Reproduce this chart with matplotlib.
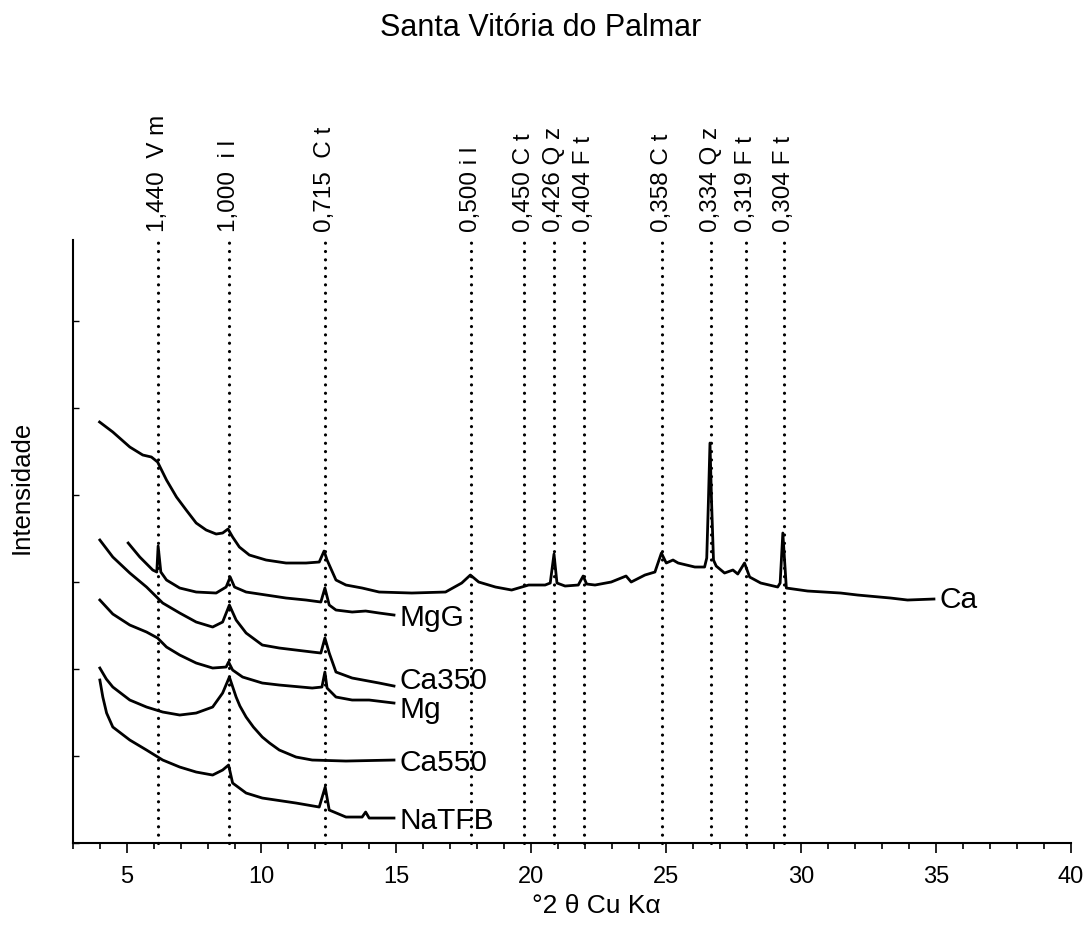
import matplotlib
matplotlib.use("Agg")
import matplotlib.pyplot as plt
from matplotlib.ticker import MultipleLocator

plt.rcParams['font.family'] = ['Liberation Sans', 'DejaVu Sans']

# ---------------- data (2theta in degrees, intensity in arbitrary units) -------------
ca_x = [4.0, 4.49, 5.12, 5.60, 5.92, 6.15, 6.48, 6.85, 7.21, 7.58, 7.95, 8.32, 8.56,
        8.76, 8.93, 9.18, 9.55, 10.17, 10.91, 11.65, 12.14, 12.32, 12.43, 12.76, 13.13,
        13.73, 14.36, 15.57, 16.82, 17.42, 17.74, 18.05, 18.67, 19.27, 19.90, 20.51,
        20.70, 20.84, 20.95, 21.25, 21.74, 21.92, 22.05, 22.36, 22.96, 23.51, 23.70,
        24.21, 24.58, 24.82, 25.00, 25.25, 25.44, 26.06, 26.42, 26.50, 26.56, 26.62,
        26.68, 26.75, 26.85, 27.16, 27.47, 27.65, 27.90, 28.09, 28.50, 29.13, 29.22,
        29.32, 29.45, 30.24, 31.46, 32.09, 33.31, 33.94, 34.92]
ca_y = [421, 411, 396, 388, 386, 381, 363, 346, 333, 320, 313, 309, 310,
        314, 306, 296, 288, 283, 280, 280, 281, 292, 283, 263, 258,
        255, 251, 250, 251, 260, 268, 261, 256, 253, 258, 258,
        260, 289, 260, 257, 258, 267, 259, 258, 261, 267, 261,
        268, 271, 290, 280, 283, 280, 276, 276, 285, 340, 400,
        340, 283, 277, 270, 273, 269, 280, 266, 260, 256, 260,
        310, 255, 252, 250, 248, 245, 243, 244]

mgg_x = [5.06, 5.49, 5.97, 6.12, 6.17, 6.27, 6.48, 6.97, 7.58, 8.32, 8.69, 8.84,
         9.00, 9.43, 10.17, 10.91, 11.65, 12.20, 12.35, 12.51, 12.76, 13.36, 13.86,
         14.36, 14.91]
mgg_y = [300, 286, 273, 271, 297, 271, 263, 255, 251, 250, 256, 266,
         256, 251, 248, 245, 243, 241, 255, 238, 233, 231, 232,
         230, 228]

ca350_x = [4.01, 4.49, 5.12, 5.74, 6.34, 6.97, 7.58, 8.19, 8.56, 8.81, 9.06, 9.43,
           10.03, 10.66, 11.88, 12.20, 12.35, 12.51, 12.76, 13.36, 14.36, 14.91]
ca350_y = [303, 286, 270, 256, 240, 230, 221, 216, 221, 238, 223, 210,
           198, 195, 191, 190, 205, 190, 171, 165, 160, 157]

mg_x = [4.01, 4.49, 5.12, 5.74, 6.15, 6.48, 6.97, 7.58, 8.19, 8.69, 8.78, 8.93,
        9.30, 10.03, 10.66, 11.88, 12.24, 12.35, 12.43, 12.76, 13.36, 13.99, 14.91]
mg_y = [243, 229, 218, 211, 205, 196, 188, 180, 175, 176, 181, 173,
        166, 160, 158, 155, 156, 171, 155, 146, 143, 143, 140]

ca550_x = [4.01, 4.25, 4.49, 5.12, 5.74, 6.34, 6.97, 7.58, 8.19, 8.56, 8.81, 9.06,
           9.20, 9.43, 9.70, 10.03, 10.30, 10.66, 11.28, 11.88, 13.13, 14.91]
ca550_y = [175, 164, 156, 143, 136, 131, 128, 130, 136, 150, 166, 146,
           137, 126, 116, 106, 100, 93, 86, 83, 82, 83]

natfb_x = [4.01, 4.12, 4.26, 4.49, 5.12, 5.74, 6.34, 6.97, 7.58, 8.19, 8.56, 8.78,
           8.93, 9.43, 10.03, 11.28, 12.14, 12.36, 12.51, 13.13, 13.73, 13.86, 13.99,
           14.91]
natfb_y = [163, 146, 130, 116, 103, 93, 83, 76, 71, 68, 73, 78,
           60, 50, 45, 40, 36, 56, 33, 26, 26, 31, 25,
           25]

series_names = ["Ca", "MgG", "Ca350", "Mg", "Ca550", "NaTFB"]

peak_pos = [6.15, 8.80, 12.35, 17.75, 19.72, 20.84, 21.95, 24.85, 26.65, 27.95, 29.36]
peak_labels = ["1,440  V m", "1,000  i l", "0,715  C t", "0,500 i l", "0,450 C t",
               "0,426 Q z", "0,404 F t", "0,358 C t", "0,334 Q z", "0,319 F t",
               "0,304 F t"]

x_ticks = [5, 10, 15, 20, 25, 30, 35, 40]

# ---------------- figure ------------------------------------------------------------
fig = plt.figure(figsize=(10.9, 9.43), dpi=100)
ax = fig.add_axes([0.0666, 0.1060, 0.9160, 0.6395])

curves = [(ca_x, ca_y), (mgg_x, mgg_y), (ca350_x, ca350_y), (mg_x, mg_y),
          (ca550_x, ca550_y), (natfb_x, natfb_y)]
label_dy = {"Ca": -1, "MgG": -2, "Ca350": 3.5, "Mg": -5, "Ca550": -2, "NaTFB": -2}
for (xs, ys), name in zip(curves, series_names):
    ax.plot(xs, ys, color='black', lw=2.0, solid_joinstyle='round')
    ax.annotate(name, xy=(xs[-1], ys[-1]), xytext=(4, label_dy[name]),
                textcoords='offset points', ha='left', va='center', fontsize=21.5)

for pos, lab in zip(peak_pos, peak_labels):
    ax.axvline(pos, color='black', lw=2.3, linestyle=(0, (0.01, 2.6)),
               dash_capstyle='round', clip_on=False)
    ax.annotate(lab, xy=(pos, 1.0), xycoords=ax.get_xaxis_transform(),
                xytext=(0, 5.5), textcoords='offset points', rotation=90,
                ha='center', va='bottom', fontsize=17.5)

ax.set_xlim(3, 40)
ax.set_ylim(0, 603)
ax.set_xticks(x_ticks)
ax.xaxis.set_minor_locator(MultipleLocator(1))
ax.yaxis.set_major_locator(MultipleLocator(87))
ax.set_yticklabels([])
ax.tick_params(axis='x', which='major', direction='out', length=7, width=1.2,
               labelsize=17, pad=9.5)
ax.tick_params(axis='x', which='minor', direction='out', length=4, width=1.2)
ax.tick_params(axis='y', which='major', direction='in', length=4, width=1.0,
               labelleft=False)
for s in ['top', 'right']:
    ax.spines[s].set_visible(False)
for s in ['left', 'bottom']:
    ax.spines[s].set_linewidth(1.5)

fig.text(541 / 1090, 1 - 36 / 943, "Santa Vitória do Palmar", ha='center',
         va='baseline', fontsize=22)
fig.text(596 / 1090, 1 - 906 / 943, "°2 θ Cu Kα", ha='center', va='center',
         fontsize=19)
fig.text(22 / 1090, 1 - 487 / 943, "Intensidade", ha='center', va='center',
         rotation=90, fontsize=18.5)

fig.savefig("out.png", dpi=100)
